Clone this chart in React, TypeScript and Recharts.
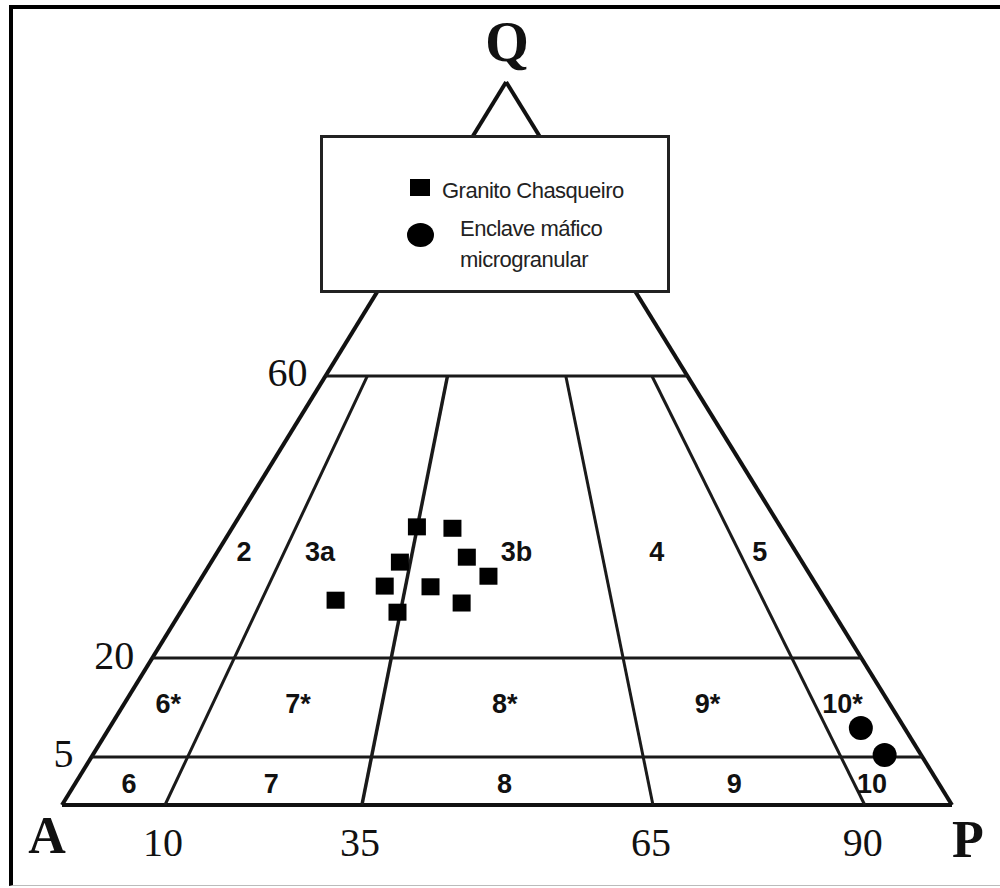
import React from 'react';
import { ScatterChart, Scatter, XAxis, YAxis, ReferenceLine, Legend } from 'recharts';

// Modal QAP composition: Q = quartz %, ratio = 100·P/(A+P)
const granitoQ = [38.6, 38.4, 33.6, 34.3, 31.6, 30.2, 30.1, 28.2, 27.8, 26.5];
const granitoRatio = [34.9, 40.9, 33.0, 43.7, 47.2, 31.2, 38.7, 23.1, 43.5, 34.5];
const enclaveQ = [9.4, 5.3];
const enclaveRatio = [94.4, 95.5];

// Streckeisen field boundaries and their tick labels
const qBoundaries = [60, 20, 5];
const qTickLabels = ['60', '20', '5'];
const ratioBoundaries = [10, 35, 65, 90];
const ratioTickLabels = ['10', '35', '65', '90'];

// Field numbers (placed at field centres in Q / ratio terms)
const fieldNames = ['2', '3a', '3b', '4', '5', '6*', '7*', '8*', '9*', '10*', '6', '7', '8', '9', '10'];
const fieldQ = [35, 35, 35, 35, 35, 13, 13, 13, 13, 13, 2.2, 2.2, 2.2, 2.2, 2.2];
const fieldRatio = [4, 17, 51.5, 75, 93.6, 5, 22.6, 49.7, 75.3, 93.7, 5.4, 22.6, 49.7, 75.4, 92.1];

const vertexNames = ['A', 'P', 'Q'];

// The printed diagram is not to scale: low-Q band is stretched and the
// P/(A+P) divisions are unevenly spaced along the base.
const Q_FROM = [0, 5, 20, 60, 100];
const Q_TO = [0, 6.64, 20.33, 59.34, 100];
const R_FROM = [0, 10, 35, 65, 90, 100];
const R_TO = [0, 11.57, 33.7, 66.4, 90.2, 100];
const APEX_X = 49.9;

// page layout of the triangle (px)
const W = 1000;
const H = 888;
const LEFT = 62;
const RIGHT = 952;
const BASE = 805;
const TOP = 82;
const UX = (RIGHT - LEFT) / 100;
const UY = (BASE - TOP) / 100;

const piecewise = (v: number, from: number[], to: number[]) => {
  for (let i = 1; i < from.length; i++) {
    if (v <= from[i]) {
      const t = (v - from[i - 1]) / (from[i] - from[i - 1]);
      return to[i - 1] + t * (to[i] - to[i - 1]);
    }
  }
  return to[to.length - 1];
};

const toXY = (q: number, ratio: number) => {
  const h = piecewise(q, Q_FROM, Q_TO);
  const b = piecewise(ratio, R_FROM, R_TO);
  return { x: b + (APEX_X - b) * (h / 100), y: h };
};

const granitoData = granitoQ.map((q, i) => toXY(q, granitoRatio[i]));
const enclaveData = enclaveQ.map((q, i) => toXY(q, enclaveRatio[i]));
const fieldData = fieldNames.map((text, i) => ({ ...toXY(fieldQ[i], fieldRatio[i]), text }));
const qTickData = qBoundaries.map((q, i) => ({ ...toXY(q, 0), text: qTickLabels[i] }));
const ratioTickData = ratioBoundaries.map((r, i) => ({ ...toXY(0, r), text: ratioTickLabels[i] }));
const vertexData = [toXY(0, 0), toXY(0, 100), toXY(100, 50)].map((p, i) => ({ ...p, text: vertexNames[i] }));

const outline = [
  [toXY(0, 0), toXY(0, 100)],
  [toXY(0, 0), toXY(100, 0)],
  [toXY(0, 100), toXY(100, 100)],
];
const qLines = qBoundaries.map((q) => [toXY(q, 0), toXY(q, 100)]);
const ratioLines = ratioBoundaries.map((r) => [toXY(0, r), toXY(60, r)]);

const SERIF = '"Liberation Serif", "Times New Roman", serif';
const SANS = '"Liberation Sans", Arial, sans-serif';

const Square = (p: any) => <rect x={p.cx - 9} y={p.cy - 8.5} width={18} height={17} fill="#000" />;
const Dot = (p: any) => <ellipse cx={p.cx} cy={p.cy} rx={12} ry={12} fill="#000" />;

const FieldLabel = (p: any) => (
  <text x={p.cx} y={p.cy} textAnchor="middle" dominantBaseline="central" fontFamily={SANS} fontWeight="bold" fontSize={27} fill="#111">
    {p.payload.text}
  </text>
);

const QTick = (p: any) => (
  <text x={p.cx - 18} y={p.cy - 3} textAnchor="end" dominantBaseline="central" fontFamily={SERIF} fontSize={40} fill="#111">
    {p.payload.text}
  </text>
);

const RatioTick = (p: any) => (
  <text x={p.cx - 2} y={p.cy + 37} textAnchor="middle" dominantBaseline="central" fontFamily={SERIF} fontSize={40} fill="#111">
    {p.payload.text}
  </text>
);

const VERTEX_OFFSET: Record<string, [number, number]> = { A: [-15, 30], P: [16, 34], Q: [1, -40] };
const VertexLabel = (p: any) => {
  const [dx, dy] = VERTEX_OFFSET[p.payload.text];
  return (
    <text x={p.cx + dx} y={p.cy + dy} textAnchor="middle" dominantBaseline="central" fontFamily={SERIF} fontWeight="bold" fontSize={p.payload.text === 'Q' ? 56 : 52} fill="#111">
      {p.payload.text}
    </text>
  );
};

// legend entries placed by marker type
const LEGEND_SLOTS: Record<string, { icon: React.CSSProperties; textLeft: number; textTop: number; textWidth: number }> = {
  square: { icon: { left: 87, top: 41, width: 20, height: 17 }, textLeft: 119, textTop: 37, textWidth: 220 },
  circle: { icon: { left: 84, top: 85, width: 27, height: 24, borderRadius: '50%' }, textLeft: 137, textTop: 75, textWidth: 165 },
};

const LegendBox = ({ payload }: any) => {
  const items = (payload || []).filter((it: any) => LEGEND_SLOTS[it.type]);
  return (
    <div style={{ position: 'relative', width: 350, height: 158, boxSizing: 'border-box', border: '3px solid #222', background: '#fff', fontFamily: SANS, fontSize: 22, letterSpacing: '-0.5px', color: '#222' }}>
      {items.map((it: any) => {
        const slot = LEGEND_SLOTS[it.type];
        return (
          <React.Fragment key={it.value}>
            <div style={{ position: 'absolute', background: '#000', ...slot.icon }} />
            <div style={{ position: 'absolute', left: slot.textLeft, top: slot.textTop, width: slot.textWidth, lineHeight: '31px', textAlign: 'left' }}>
              {it.value}
            </div>
          </React.Fragment>
        );
      })}
    </div>
  );
};

export default function App() {
  return (
    <div style={{ position: 'absolute', left: 0, top: 0, width: W, height: H, overflow: 'hidden', background: '#fff' }}>
      <ScatterChart width={W} height={H} margin={{ top: 0, right: 0, bottom: 0, left: 0 }}>
        <XAxis type="number" dataKey="x" hide allowDataOverflow domain={[-LEFT / UX, (W - LEFT) / UX]} />
        <YAxis type="number" dataKey="y" hide allowDataOverflow domain={[-(H - BASE) / UY, BASE / UY]} />
        {outline.map((seg, i) => (
          <ReferenceLine key={`o${i}`} segment={seg} stroke="#111" strokeWidth={4} />
        ))}
        {qLines.map((seg, i) => (
          <ReferenceLine key={`q${i}`} segment={seg} stroke="#1a1a1a" strokeWidth={3} />
        ))}
        {ratioLines.map((seg, i) => (
          <ReferenceLine key={`r${i}`} segment={seg} stroke="#1a1a1a" strokeWidth={ratioBoundaries[i] === 35 ? 3.5 : 3} />
        ))}
        <Scatter name="Granito Chasqueiro" data={granitoData} shape={Square} legendType="square" isAnimationActive={false} />
        <Scatter name="Enclave máfico microgranular" data={enclaveData} shape={Dot} legendType="circle" isAnimationActive={false} />
        <Scatter data={fieldData} shape={FieldLabel} legendType="none" isAnimationActive={false} />
        <Scatter data={qTickData} shape={QTick} legendType="none" isAnimationActive={false} />
        <Scatter data={ratioTickData} shape={RatioTick} legendType="none" isAnimationActive={false} />
        <Scatter data={vertexData} shape={VertexLabel} legendType="none" isAnimationActive={false} />
        <Legend
          content={<LegendBox />}
          layout="horizontal"
          verticalAlign="middle"
          align="center"
          wrapperStyle={{ left: 320, top: 135, width: 350, height: 158 }}
        />
      </ScatterChart>
      {/* outer frame */}
      <div style={{ position: 'absolute', left: 9, top: 5, width: W - 9, height: 881, boxSizing: 'border-box', borderLeft: '4px solid #000', borderTop: '4px solid #000', borderBottom: '1px solid #bbb', pointerEvents: 'none' }} />
    </div>
  );
}
